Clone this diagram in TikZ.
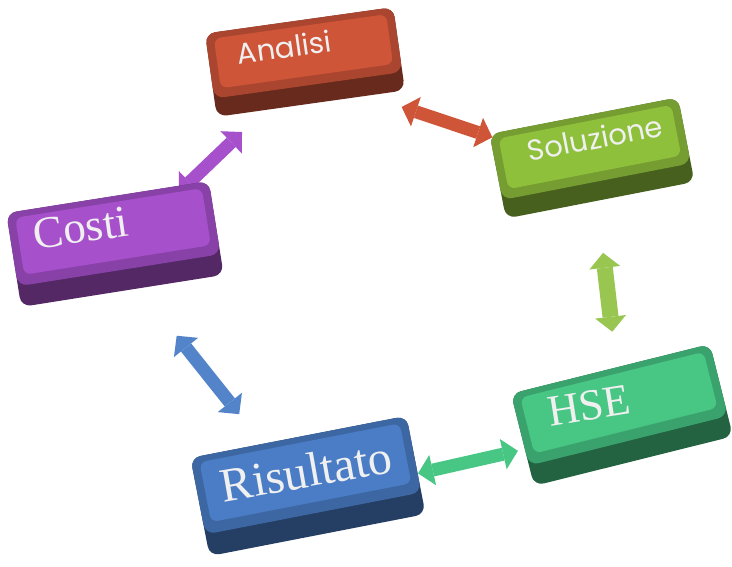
\documentclass[tikz,border=0pt]{standalone}
\usepackage{fontspec}
\usetikzlibrary{calc}
\usetikzlibrary{arrows.meta}
\usetikzlibrary{backgrounds}
\newfontfamily\keysans{Poppins}
\newfontfamily\keyserif{Liberation Serif}
\definecolor{anared}{HTML}{CF5539}
\definecolor{solgreen}{HTML}{8EC03C}
\definecolor{cospurple}{HTML}{A650CB}
\definecolor{risblue}{HTML}{4A7DC6}
\definecolor{hsegreen}{HTML}{47C684}

\tikzset{
  keybox/.style={rounded corners=10pt, inner sep=0pt},
  lbl/.style={text=white!94!black, inner sep=0pt},
  dblarrow/.style={line width=13pt,
    {Triangle[length=15pt,width=31pt,line width=0pt]}-{Triangle[length=15pt,width=31pt,line width=0pt]}}
}

% key: name, centre, angle, colour, width, height
\newcommand{\keybox}[6]{%
  \begin{scope}[shift={#2}, rotate=#3, transform shape]
    \node[keybox, fill=#4!50!black, minimum width=#5pt, minimum height=#6pt] (#1) at (0,0) {};
    \fill[#4!82!black, rounded corners=10pt] (-#5/2,-0.28*#6) rectangle (#5/2,#6/2);
    \fill[#4, rounded corners=7pt] (-#5/2+8,-0.17*#6) rectangle (#5/2-8,#6/2-6);
  \end{scope}}

\begin{document}
\begin{tikzpicture}[x=1pt,y=1pt]
\useasboundingbox (0,0) rectangle (732,567);

\keybox{ana}{(305,505)}{8}{anared}{190}{84}
\keybox{sol}{(592,409)}{11}{solgreen}{192}{86}
\keybox{cos}{(115,323)}{9}{cospurple}{205}{95}
\keybox{ris}{(308,81)}{11}{risblue}{220}{100}
\keybox{hse}{(622,152)}{14}{hsegreen}{205}{95}

\node[lbl, rotate=8, font=\keysans\fontsize{29}{32}\selectfont] (anat) at (284,520) {Analisi};
\node[lbl, rotate=11, font=\keysans\fontsize{29}{32}\selectfont] (solt) at (595,429) {Soluzione};
\node[lbl, rotate=8, font=\keyserif\fontsize{45}{48}\selectfont] (cost) at (81,339) {Costi};
\node[lbl, rotate=10, font=\keyserif\fontsize{48}{52}\selectfont] (rist) at (306,96) {Risultato};
\node[lbl, rotate=9, font=\keyserif\fontsize{44}{48}\selectfont] (hset) at (589,161) {HSE};

\begin{pgfonlayer}{background}
\draw[dblarrow, anared] ($(ana)!.35!(sol)!12pt!-90:(sol)$) -- ($(ana)!.666!(sol)!12pt!-90:(sol)$);
\draw[dblarrow, solgreen!90!white, line width=16pt] ($(sol)!.369!(hse)$) -- ($(sol)!.676!(hse)$);
\draw[dblarrow, hsegreen] ($(hse)!.34!(ris)!12pt!90:(ris)$) -- ($(hse)!.658!(ris)!12pt!90:(ris)$);
\draw[dblarrow, risblue!95!white] ($(ris)!.32!(cos)!9pt!90:(cos)$) -- ($(ris)!.644!(cos)!9pt!90:(cos)$);
\draw[dblarrow, cospurple] ($(cos)!.31!(ana)!7pt!-90:(ana)$) -- ($(cos)!.643!(ana)!7pt!-90:(ana)$);
\end{pgfonlayer}
\end{tikzpicture}
\end{document}
